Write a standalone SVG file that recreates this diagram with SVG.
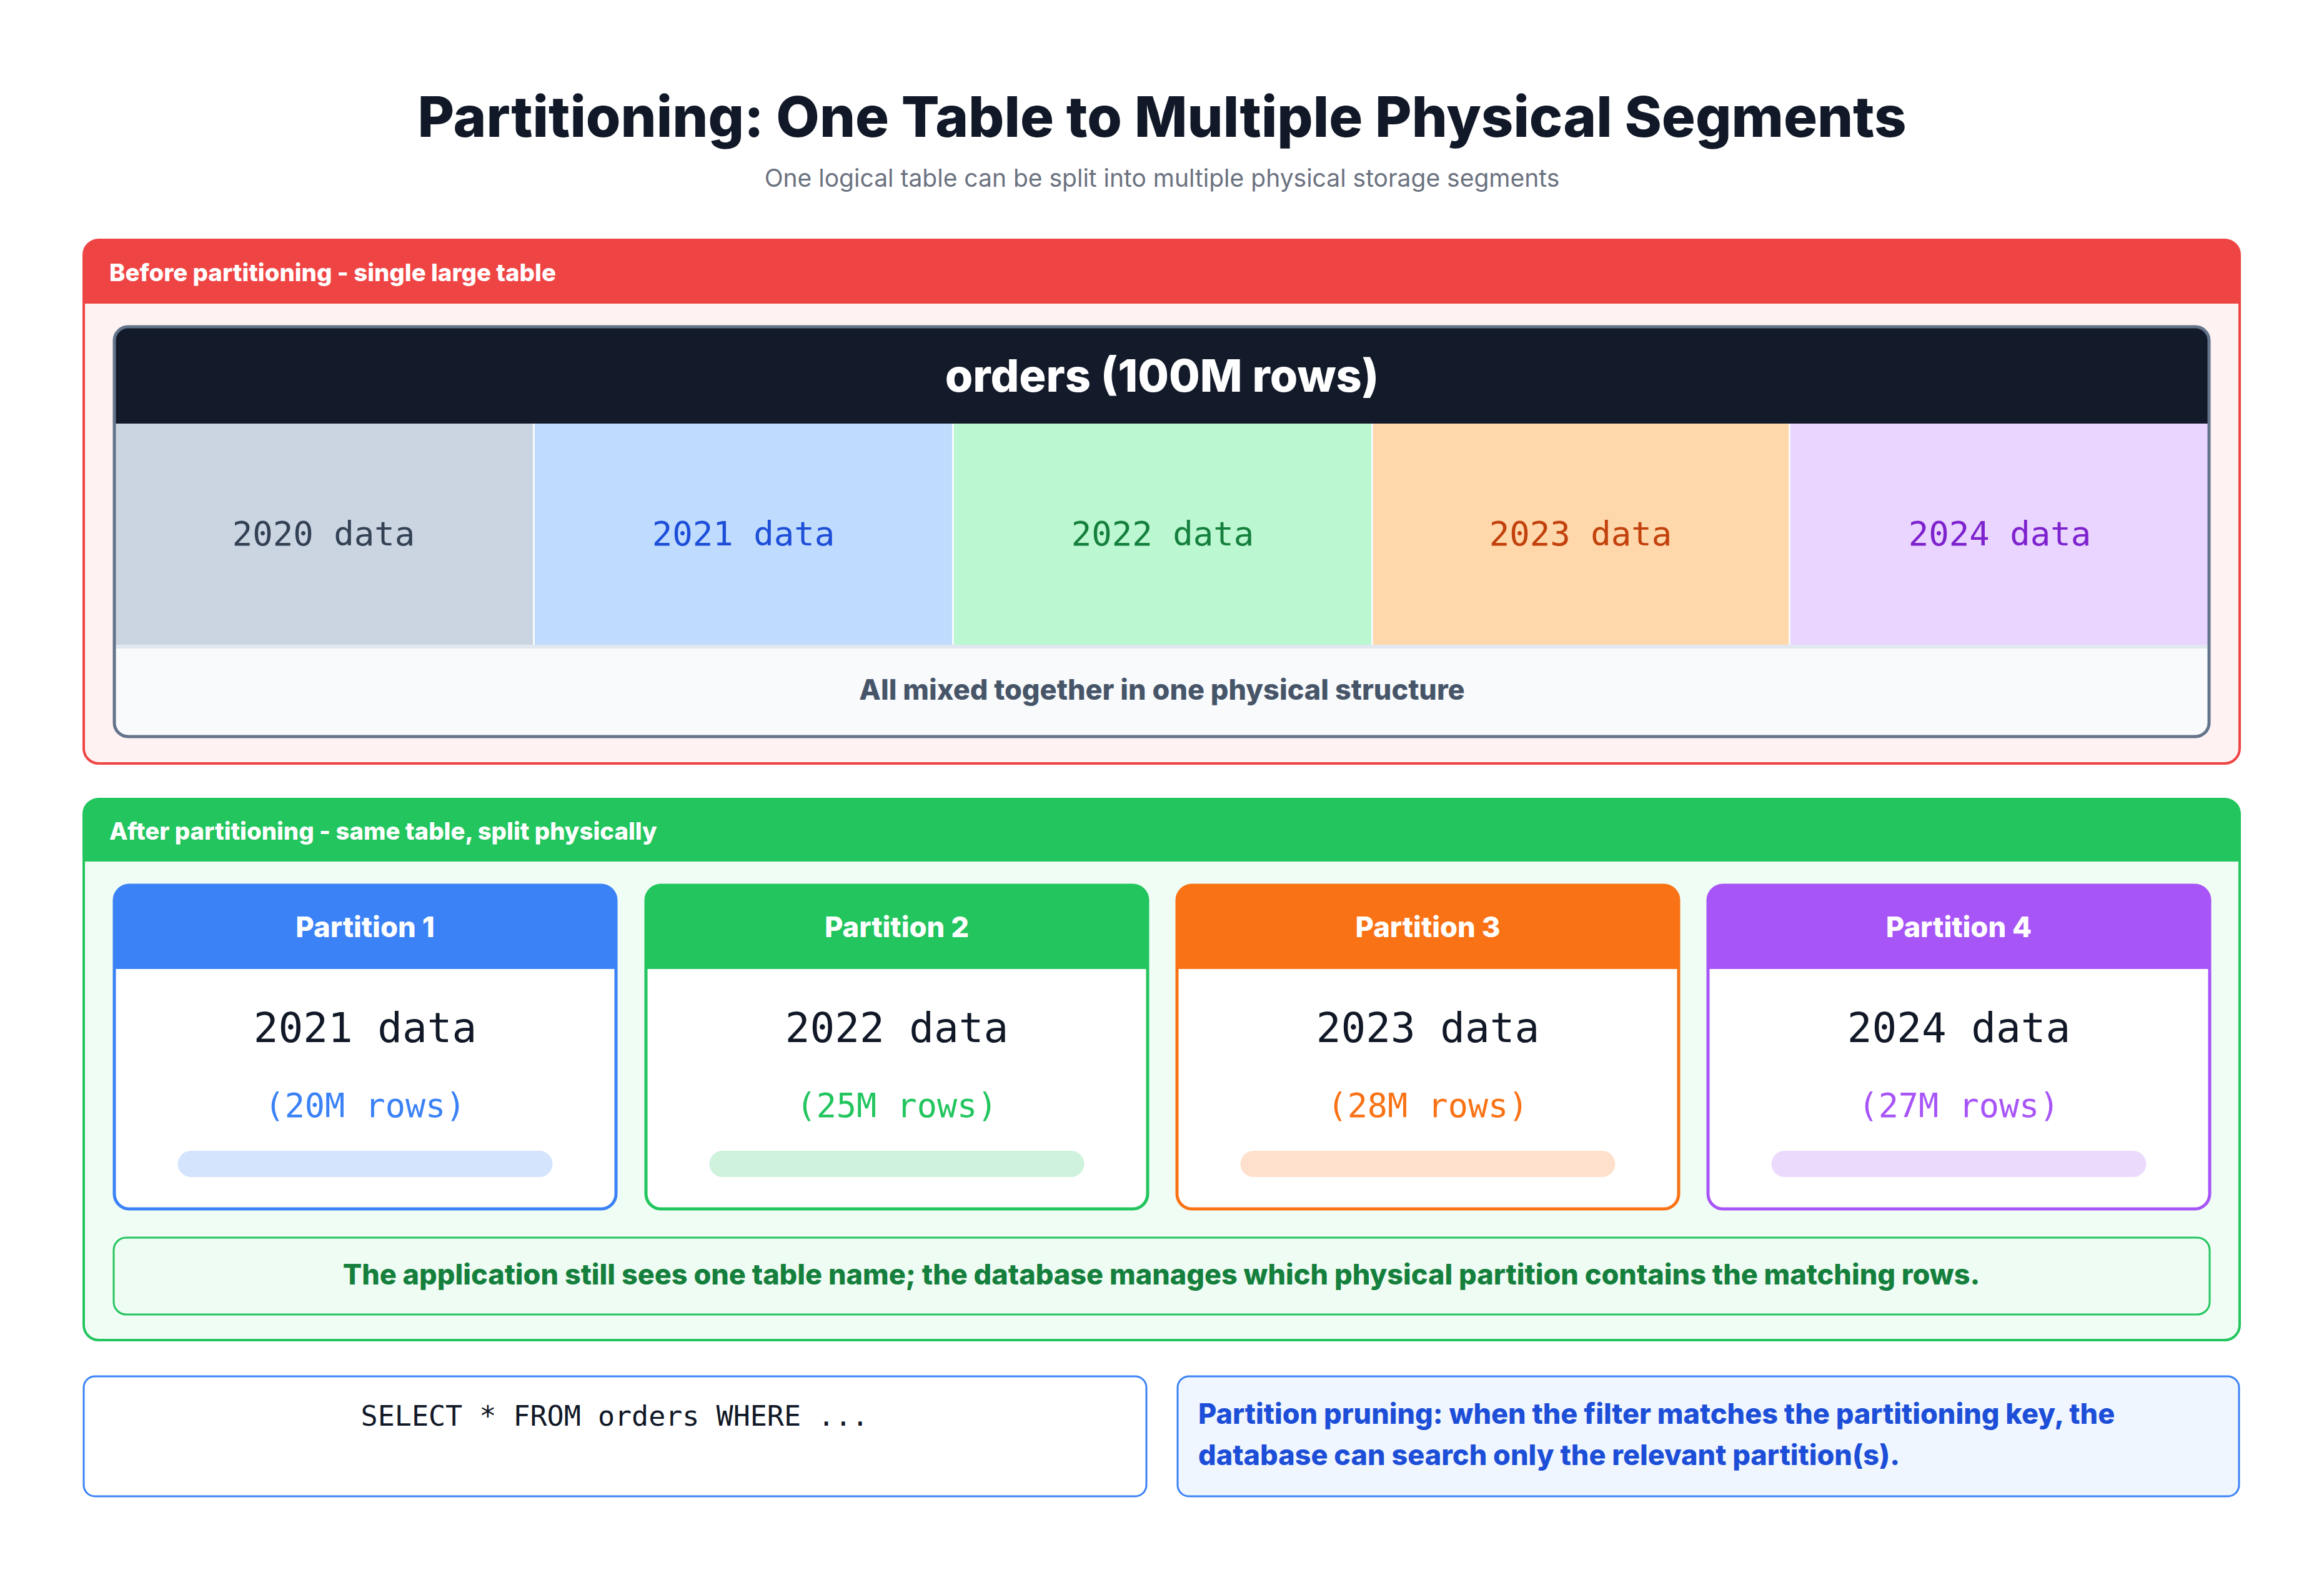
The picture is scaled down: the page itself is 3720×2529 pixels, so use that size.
<svg xmlns="http://www.w3.org/2000/svg" width="3720" height="2529" viewBox="0 0 3720 2529">
<style>
.sans{font-family:Inter,"Noto Sans","Liberation Sans",sans-serif}
.mono{font-family:"DejaVu Sans Mono","Liberation Mono",monospace}
.b{font-weight:800}
.title{font-size:90px;fill:#111827;font-weight:800}
.sub{font-size:39px;fill:#6b7280}
.sechead{font-size:38.3px;fill:#ffffff;font-weight:800}
.cell{font-size:54px}
.phead{font-size:45.3px;fill:#ffffff;font-weight:800}
.pdata{font-size:66px;fill:#111827}
.prows{font-size:53.5px}
</style>
<defs>
<clipPath id="tblclip"><rect x="183" y="523" width="3353" height="656" rx="22"/></clipPath>
</defs>
<rect width="3720" height="2529" fill="#ffffff"/>

<g id="title">
<text class="sans title" x="1860" y="219" text-anchor="middle">Partitioning: One Table to Multiple Physical Segments</text>
<text class="sans sub" x="1860" y="299" text-anchor="middle">One logical table can be split into multiple physical storage segments</text>
</g>

<g id="before">
<rect x="134" y="384" width="3451" height="838" rx="24" fill="#fef2f2"/>
<path d="M134,486 V408 Q134,384 158,384 H3561 Q3585,384 3585,408 V486 Z" fill="#ef4444"/>
<rect x="134" y="384" width="3451" height="838" rx="24" fill="none" stroke="#ef4444" stroke-width="4"/>
<text class="sans sechead" x="175" y="450">Before partitioning - single large table</text>
</g>

<g id="orders-table">
<g clip-path="url(#tblclip)">
<rect x="183" y="523" width="3353" height="656" fill="#f8fafc"/>
<rect x="183" y="523" width="3353" height="155" fill="#131a2a"/>
<rect x="183" y="678" width="670" height="354" fill="#cbd5e1"/>
<rect x="856" y="678" width="668" height="354" fill="#bfdbfe"/>
<rect x="1527" y="678" width="668" height="354" fill="#bbf7d0"/>
<rect x="2198" y="678" width="665" height="354" fill="#fed7aa"/>
<rect x="2866" y="678" width="670" height="354" fill="#e9d5ff"/>
<rect x="183" y="1032" width="3353" height="6" fill="#e2e8f0"/>
</g>
<rect x="183" y="523" width="3353" height="656" rx="22" fill="none" stroke="#64748b" stroke-width="5"/>
<text class="sans b" x="1860" y="627" text-anchor="middle" font-size="72" fill="#ffffff">orders (100M rows)</text>
<text class="mono cell" x="518" y="873" text-anchor="middle" fill="#334155">2020 data</text>
<text class="mono cell" x="1190" y="873" text-anchor="middle" fill="#1d4ed8">2021 data</text>
<text class="mono cell" x="1861" y="873" text-anchor="middle" fill="#15803d">2022 data</text>
<text class="mono cell" x="2530" y="873" text-anchor="middle" fill="#c2410c">2023 data</text>
<text class="mono cell" x="3201" y="873" text-anchor="middle" fill="#7e22ce">2024 data</text>
<text class="sans b" x="1860" y="1120" text-anchor="middle" font-size="45" fill="#475569">All mixed together in one physical structure</text>
</g>

<g id="after">
<rect x="134" y="1279" width="3451" height="866" rx="24" fill="#f0fdf4"/>
<path d="M134,1379 V1303 Q134,1279 158,1279 H3561 Q3585,1279 3585,1303 V1379 Z" fill="#22c55e"/>
<rect x="134" y="1279" width="3451" height="866" rx="24" fill="none" stroke="#22c55e" stroke-width="4"/>
<text class="sans sechead" x="175" y="1344">After partitioning - same table, split physically</text>
</g>

<g id="partition1">
<rect x="183" y="1417" width="803" height="518" rx="24" fill="#ffffff"/>
<path d="M183,1551 V1441 Q183,1417 207,1417 H962 Q986,1417 986,1441 V1551 Z" fill="#3b82f6"/>
<rect x="183" y="1417" width="803" height="518" rx="24" fill="none" stroke="#3b82f6" stroke-width="5"/>
<text class="sans phead" x="584.5" y="1500" text-anchor="middle">Partition 1</text>
<text class="mono pdata" x="584.5" y="1668" text-anchor="middle">2021 data</text>
<text class="mono prows" x="584.5" y="1788" text-anchor="middle" fill="#3b82f6">(20M rows)</text>
<rect x="284.5" y="1842" width="600" height="42" rx="21" fill="#3b82f6" fill-opacity="0.22"/>
</g>

<g id="partition2">
<rect x="1034" y="1417" width="803" height="518" rx="24" fill="#ffffff"/>
<path d="M1034,1551 V1441 Q1034,1417 1058,1417 H1813 Q1837,1417 1837,1441 V1551 Z" fill="#22c55e"/>
<rect x="1034" y="1417" width="803" height="518" rx="24" fill="none" stroke="#22c55e" stroke-width="5"/>
<text class="sans phead" x="1435.5" y="1500" text-anchor="middle">Partition 2</text>
<text class="mono pdata" x="1435.5" y="1668" text-anchor="middle">2022 data</text>
<text class="mono prows" x="1435.5" y="1788" text-anchor="middle" fill="#22c55e">(25M rows)</text>
<rect x="1135.5" y="1842" width="600" height="42" rx="21" fill="#22c55e" fill-opacity="0.22"/>
</g>

<g id="partition3">
<rect x="1884" y="1417" width="803" height="518" rx="24" fill="#ffffff"/>
<path d="M1884,1551 V1441 Q1884,1417 1908,1417 H2663 Q2687,1417 2687,1441 V1551 Z" fill="#f97316"/>
<rect x="1884" y="1417" width="803" height="518" rx="24" fill="none" stroke="#f97316" stroke-width="5"/>
<text class="sans phead" x="2285.5" y="1500" text-anchor="middle">Partition 3</text>
<text class="mono pdata" x="2285.5" y="1668" text-anchor="middle">2023 data</text>
<text class="mono prows" x="2285.5" y="1788" text-anchor="middle" fill="#f97316">(28M rows)</text>
<rect x="1985.5" y="1842" width="600" height="42" rx="21" fill="#f97316" fill-opacity="0.22"/>
</g>

<g id="partition4">
<rect x="2734" y="1417" width="803" height="518" rx="24" fill="#ffffff"/>
<path d="M2734,1551 V1441 Q2734,1417 2758,1417 H3513 Q3537,1417 3537,1441 V1551 Z" fill="#a855f7"/>
<rect x="2734" y="1417" width="803" height="518" rx="24" fill="none" stroke="#a855f7" stroke-width="5"/>
<text class="sans phead" x="3135.5" y="1500" text-anchor="middle">Partition 4</text>
<text class="mono pdata" x="3135.5" y="1668" text-anchor="middle">2024 data</text>
<text class="mono prows" x="3135.5" y="1788" text-anchor="middle" fill="#a855f7">(27M rows)</text>
<rect x="2835.5" y="1842" width="600" height="42" rx="21" fill="#a855f7" fill-opacity="0.22"/>
</g>

<g id="summary">
<rect x="182" y="1981" width="3355" height="123" rx="20" fill="#effcf3" stroke="#22c55e" stroke-width="3"/>
<text class="sans b" x="1859" y="2056" text-anchor="middle" font-size="45" fill="#15803d">The application still sees one table name; the database manages which physical partition contains the matching rows.</text>
</g>

<g id="query">
<rect x="134" y="2203" width="1701" height="192" rx="18" fill="#ffffff" stroke="#3b82f6" stroke-width="3"/>
<text class="mono" x="984" y="2282" text-anchor="middle" font-size="45" fill="#111827">SELECT * FROM orders WHERE ...</text>
</g>

<g id="pruning">
<rect x="1885" y="2203" width="1699" height="192" rx="18" fill="#eff6ff" stroke="#3b82f6" stroke-width="3"/>
<text class="sans b" font-size="45" fill="#1d4ed8"><tspan x="1918" y="2279">Partition pruning: when the filter matches the partitioning key, the</tspan><tspan x="1918" y="2345">database can search only the relevant partition(s).</tspan></text>
</g>

<g id="connectors"></g>
</svg>
